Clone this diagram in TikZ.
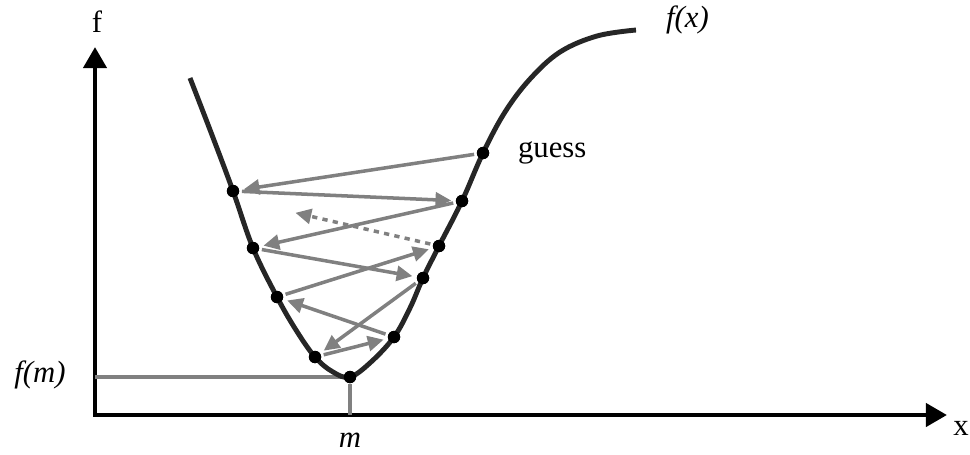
\documentclass[tikz,border=0pt]{standalone}
\usepackage{fontspec}
\setmainfont{Liberation Serif}
\usetikzlibrary{arrows.meta}
\definecolor{cdark}{HTML}{262626}
\definecolor{cgrey}{HTML}{808080}
\tikzset{
  every picture/.style={line width=1.2pt},
  axis/.style={draw=black, line width=2.7pt, line join=miter,
    {Triangle[length=12pt, width=13pt]}-{Triangle[length=12pt, width=13pt]}},
  curve/.style={draw=cdark, line width=2.8pt},
  dot/.style={circle, fill=black, inner sep=0pt, minimum size=7pt},
  jump/.style={draw=cgrey, line width=2pt, -{Triangle[length=9pt, width=8.5pt]}, shorten <=1pt, shorten >=2pt},
  guide/.style={draw=cgrey, line width=2.3pt},
  lbl/.style={font=\fontsize{17.5}{20}\selectfont, inner sep=0pt},
}

\begin{document}
\begin{tikzpicture}[x=0.02cm, y=-0.02cm]
  \useasboundingbox (0,0) rectangle (970,454);
  % axes
  \coordinate (o) at (95,415);
  \coordinate (ytip) at (95,47);
  \coordinate (xtip) at (947,415);
  \draw[axis] (ytip) -- (o) -- (xtip);
  \node[lbl] (flbl) at (97,22) {f};
  \node[lbl] (xlbl) at (961,428) {x};
  % points of the search
  \node[dot] (r1) at (483,153) {};
  \node[dot] (r2) at (462,201) {};
  \node[dot] (r3) at (439,246) {};
  \node[dot] (r4) at (423,278) {};
  \node[dot] (r5) at (394,337) {};
  \node[dot] (l1) at (233,191) {};
  \node[dot] (l2) at (253,248) {};
  \node[dot] (l3) at (277,297) {};
  \node[dot] (l4) at (315,357) {};
  \node[dot] (m0) at (350,377) {};
  \coordinate (dend) at (292,212);
  % minimum
  \draw[guide] (o |- m0) -- (m0) -- (m0 |- o);
  \node[lbl] (fm) at (40,375) {\textit{f(m)}};
  \node[lbl] (mlbl) at (350,440) {\textit{m}};
  % the function
  \draw[curve] plot[smooth, tension=0.6] coordinates {
    (190,78) (212,135) (233,191) (253,248) (277,297) (296,330) (315,357)
    (333,372) (350,377) (371,362) (394,337) (410,308) (423,278) (439,246)
    (462,201) (483,153) (505,112) (530,79) (560,52) (597,36) (636,30)};
  \node[lbl, anchor=west] (fx) at (665,20) {\textit{f(x)}};
  \node[lbl, anchor=west] (guess) at (517,153) {guess};
  % steps
  \draw[jump] (r1) -- (l1);
  \draw[jump] (l1) -- (r2);
  \draw[jump, dash pattern=on 3pt off 3pt] (r3) -- (dend);
  \draw[jump] (r2) -- (l2);
  \draw[jump] (l2) -- (r4);
  \draw[jump] (l3) -- (r3);
  \draw[jump] (r4) -- (l4);
  \draw[jump] (r5) -- (l3);
  \draw[jump] (l4) -- (r5);
  % dots on top
  \foreach \p in {r1,r2,r3,r4,r5,l1,l2,l3,l4,m0}
    \fill (\p) circle (3.5pt);
\end{tikzpicture}
\end{document}
